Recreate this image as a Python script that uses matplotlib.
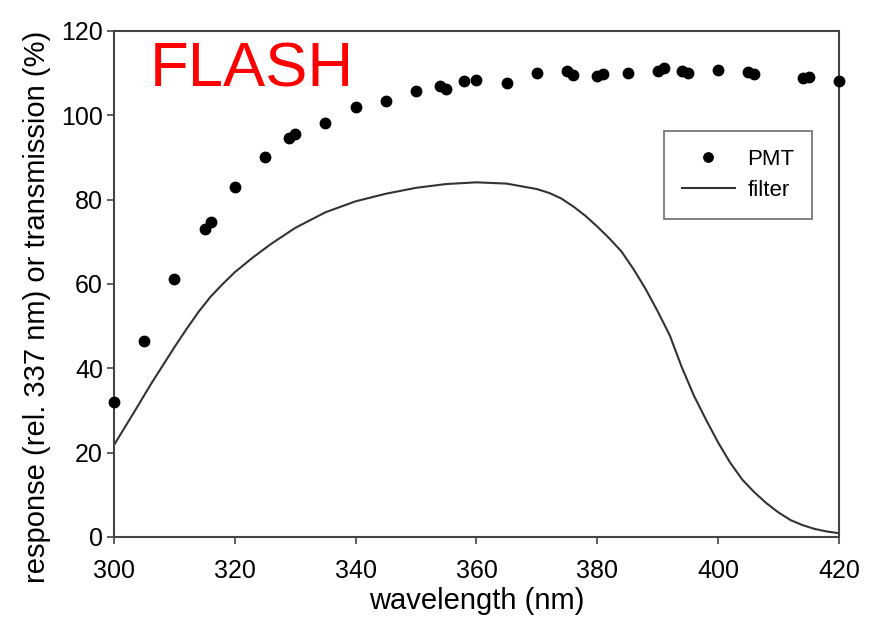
import matplotlib
matplotlib.use("Agg")
import matplotlib.pyplot as plt

# PMT response (rel. 337 nm), %
pmt_wl = [300, 305, 310, 315, 316, 320, 325, 329, 330, 335, 340, 345, 350, 354,
          355, 358, 360, 365, 370, 375, 376, 380, 381, 385, 390, 391, 394, 395,
          400, 405, 406, 414, 415, 420]
pmt_resp = [32.0, 46.5, 61.2, 73.0, 74.7, 83.0, 90.1, 94.6, 95.6, 98.2, 102.0,
            103.4, 105.8, 107.0, 106.2, 108.1, 108.4, 107.7, 110.0, 110.5, 109.6,
            109.3, 109.8, 110.0, 110.5, 111.2, 110.5, 110.0, 110.7, 110.3, 109.8,
            108.8, 109.1, 108.1]

# Filter transmission, %
filter_wl = [300, 302, 304, 306, 308, 310, 312, 314, 316, 318, 320, 323, 326,
             330, 335, 340, 345, 350, 355, 360, 365, 370, 372, 374, 376, 378,
             380, 382, 384, 386, 388, 390, 392, 394, 396, 398, 400, 402, 404,
             406, 408, 410, 412, 414, 416, 418, 420]
filter_tr = [21.8, 26.5, 31.2, 36.0, 40.5, 45.0, 49.3, 53.4, 57.0, 60.0, 62.8,
             66.3, 69.5, 73.3, 77.0, 79.6, 81.4, 82.8, 83.7, 84.1, 83.8, 82.5,
             81.6, 80.3, 78.4, 76.2, 73.6, 70.8, 67.7, 63.5, 58.8, 53.5, 47.8,
             40.2, 33.5, 27.8, 22.4, 17.6, 13.6, 10.6, 8.0, 5.8, 4.0, 2.8, 1.9,
             1.3, 0.9]

x_ticks = [300, 320, 340, 360, 380, 400, 420]
y_ticks = [0, 20, 40, 60, 80, 100, 120]

plt.rcParams['font.family'] = ['Liberation Sans', 'DejaVu Sans']

fig = plt.figure(figsize=(8.73, 6.19), dpi=100)
ax = fig.add_axes([0.1306, 0.1325, 0.8304, 0.8175])

spine_col = '#444444'
ax.plot(filter_wl, filter_tr, color='#333333', lw=1.5, label='filter', zorder=2)
ax.plot(pmt_wl, pmt_resp, 'o', color='black', ms=7.5, label='PMT',
        clip_on=False, zorder=3)

ax.set_xlim(300, 420)
ax.set_ylim(0, 120)
ax.set_xticks(x_ticks)
ax.set_yticks(y_ticks)
ax.tick_params(axis='both', labelsize=18, direction='out', length=5,
               width=1.2, color=spine_col)
ax.tick_params(axis='x', pad=11)
ax.tick_params(axis='y', pad=3)
for s in ax.spines.values():
    s.set_color(spine_col)
    s.set_linewidth(1.5)

ax.set_xlabel('wavelength (nm)', fontsize=21, labelpad=3)
ax.set_ylabel('response (rel. 337 nm) or transmission (%)', fontsize=21)
ax.yaxis.set_label_coords(-0.087, 0.455)

handles, labels = ax.get_legend_handles_labels()
leg = ax.legend(handles[::-1], labels[::-1], loc='upper left',
                bbox_to_anchor=(0.7586, 0.802), fontsize=16, frameon=True,
                fancybox=False, edgecolor='#555555', handlelength=2.4,
                borderpad=0.8, labelspacing=0.45, handletextpad=0.55,
                markerscale=0.9, borderaxespad=0)
leg.get_frame().set_linewidth(1.3)

fig.text(0.172, 0.860, 'FLASH', color='red', fontsize=45.5, ha='left',
         va='baseline')

fig.savefig('out.png', dpi=100)
